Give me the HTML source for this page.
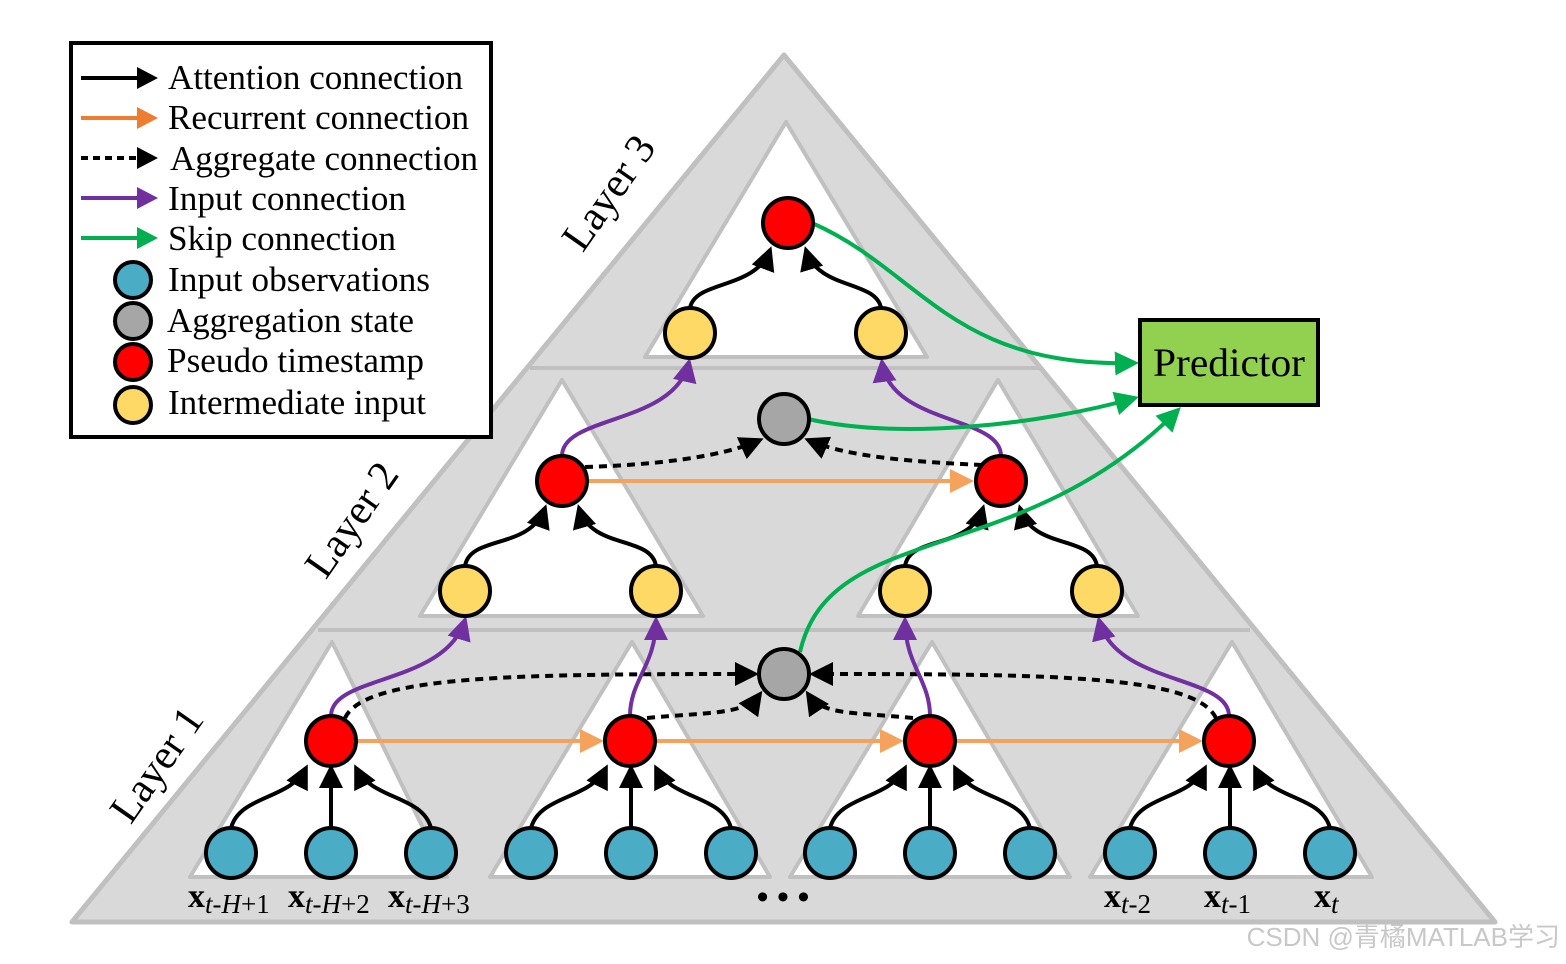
<!DOCTYPE html>
<html><head><meta charset="utf-8"><style>body{margin:0;background:#fff}svg{display:block}</style></head><body>
<svg width="1566" height="964" viewBox="0 0 1566 964" xmlns="http://www.w3.org/2000/svg" font-family="Liberation Serif, serif">
<defs>
<marker id="mk" markerWidth="6" markerHeight="6" refX="5" refY="3" orient="auto" markerUnits="strokeWidth"><path d="M0,0L6,3L0,6z" fill="#000"/></marker>
<marker id="mo" markerWidth="6" markerHeight="6" refX="5" refY="3" orient="auto" markerUnits="strokeWidth"><path d="M0,0L6,3L0,6z" fill="#f5a25d"/></marker>
<marker id="mp" markerWidth="6" markerHeight="6" refX="5" refY="3" orient="auto" markerUnits="strokeWidth"><path d="M0,0L6,3L0,6z" fill="#7030a0"/></marker>
<marker id="mg" markerWidth="6" markerHeight="6" refX="5" refY="3" orient="auto" markerUnits="strokeWidth"><path d="M0,0L6,3L0,6z" fill="#00b050"/></marker>
</defs>
<polygon points="784,55 1495,922 72,922" fill="#d9d9d9" stroke="#c0c0c0" stroke-width="5" stroke-linejoin="round"/>
<line x1="530" y1="368" x2="1040" y2="368" stroke="#c0c0c0" stroke-width="4"/>
<line x1="318" y1="630" x2="1250" y2="630" stroke="#c0c0c0" stroke-width="4"/>
<g fill="#fff" stroke="#c0c0c0" stroke-width="4" stroke-linejoin="round">
<polygon points="786,122 927,357 645,357"/>
<polygon points="562,380 703,616 420,616"/>
<polygon points="998,380 1138,616 858,616"/>
<polygon points="332,642 447,877 190,877"/>
<polygon points="632,642 770,877 490,877"/>
<polygon points="932,642 1070,877 790,877"/>
<polygon points="1232,642 1372,877 1090,877"/>
</g>
<g font-size="42" fill="#000">
<text transform="translate(612,195) rotate(-55)" text-anchor="middle" dominant-baseline="middle">Layer 3</text>
<text transform="translate(355,522) rotate(-55)" text-anchor="middle" dominant-baseline="middle">Layer 2</text>
<text transform="translate(160,767) rotate(-55)" text-anchor="middle" dominant-baseline="middle">Layer 1</text>
</g>
<g fill="none" stroke="#000" stroke-width="4" marker-end="url(#mk)">
<path d="M231,828 C240,795 290,800 306,768"/><path d="M331,828 L331,768"/><path d="M431,828 C422,795 372,800 356,768"/>
<path d="M531,828 C540,795 590,800 606,768"/><path d="M631,828 L631,768"/><path d="M731,828 C722,795 672,800 656,768"/>
<path d="M830,828 C839,795 889,800 905,768"/><path d="M930,828 L930,768"/><path d="M1030,828 C1021,795 971,800 955,768"/>
<path d="M1130,828 C1139,795 1189,800 1205,768"/><path d="M1230,828 L1230,768"/><path d="M1330,828 C1321,795 1271,800 1255,768"/>
<path d="M465,566 C470,535 530,550 545,508"/><path d="M656,566 C651,535 591,550 579,508"/>
<path d="M905,566 C910,535 970,550 983,508"/><path d="M1097,566 C1092,535 1032,550 1020,508"/>
<path d="M690,308 C695,280 755,290 770,250"/><path d="M881,308 C876,280 818,290 806,250"/>
</g>
<g fill="none" stroke="#000" stroke-width="4" stroke-dasharray="8,6" marker-end="url(#mk)">
<path d="M345,718 C365,675 520,674 755,674"/>
<path d="M647,718 C710,712 745,715 760,694"/>
<path d="M1216,718 C1195,675 1050,674 813,674"/>
<path d="M913,718 C850,712 822,715 808,694"/>
<path d="M585,467 C650,465 720,458 760,440"/>
<path d="M982,465 C920,462 850,458 808,440"/>
</g>
<g stroke="#f5a25d" stroke-width="4" marker-end="url(#mo)">
<line x1="356" y1="741" x2="600" y2="741"/><line x1="655" y1="741" x2="900" y2="741"/><line x1="955" y1="741" x2="1199" y2="741"/>
<line x1="587" y1="481" x2="970" y2="481"/>
</g>
<g fill="none" stroke="#7030a0" stroke-width="4" marker-end="url(#mp)">
<path d="M331,716 C331,675 445,685 465,620"/>
<path d="M630,716 C630,680 656,665 656,620"/>
<path d="M930,716 C930,680 905,665 905,620"/>
<path d="M1229,716 C1229,675 1115,685 1099,620"/>
<path d="M562,456 C562,415 675,425 689,362"/>
<path d="M1001,456 C1001,415 890,425 882,362"/>
</g>
<g fill="none" stroke="#00b050" stroke-width="4" marker-end="url(#mg)">
<path d="M812,223 C920,270 950,368 1135,363"/>
<path d="M808,419 C900,440 1040,425 1135,398"/>
<path d="M800,652 C830,520 1020,570 1178,410"/>
</g>
<g stroke="#000" stroke-width="4">
<g fill="#4bacc6">
<circle cx="231" cy="853" r="25"/><circle cx="331" cy="853" r="25"/><circle cx="431" cy="853" r="25"/>
<circle cx="531" cy="853" r="25"/><circle cx="631" cy="853" r="25"/><circle cx="731" cy="853" r="25"/>
<circle cx="830" cy="853" r="25"/><circle cx="930" cy="853" r="25"/><circle cx="1030" cy="853" r="25"/>
<circle cx="1130" cy="853" r="25"/><circle cx="1230" cy="853" r="25"/><circle cx="1330" cy="853" r="25"/>
</g>
<g fill="#ff0000">
<circle cx="331" cy="741" r="25"/><circle cx="630" cy="741" r="25"/><circle cx="930" cy="741" r="25"/><circle cx="1229" cy="741" r="25"/>
<circle cx="562" cy="481" r="25"/><circle cx="1001" cy="481" r="25"/><circle cx="788" cy="223" r="25"/>
</g>
<g fill="#a6a6a6"><circle cx="784" cy="674" r="25"/><circle cx="784" cy="419" r="25"/></g>
<g fill="#ffd966">
<circle cx="465" cy="591" r="25"/><circle cx="656" cy="591" r="25"/><circle cx="905" cy="591" r="25"/><circle cx="1097" cy="591" r="25"/>
<circle cx="690" cy="333" r="25"/><circle cx="881" cy="333" r="25"/>
</g>
</g>
<rect x="1140" y="320" width="178" height="85" fill="#92d050" stroke="#000" stroke-width="4"/>
<text x="1229" y="376" font-size="40" text-anchor="middle" textLength="152" lengthAdjust="spacingAndGlyphs">Predictor</text>
<g font-size="34">
<text x="188" y="907"><tspan font-weight="bold">x</tspan><tspan font-style="italic" font-size="27" dy="6">t-H</tspan><tspan font-size="27">+1</tspan></text>
<text x="288" y="907"><tspan font-weight="bold">x</tspan><tspan font-style="italic" font-size="27" dy="6">t-H</tspan><tspan font-size="27">+2</tspan></text>
<text x="388" y="907"><tspan font-weight="bold">x</tspan><tspan font-style="italic" font-size="27" dy="6">t-H</tspan><tspan font-size="27">+3</tspan></text>
<text x="1104" y="907"><tspan font-weight="bold">x</tspan><tspan font-style="italic" font-size="27" dy="6">t</tspan><tspan font-size="27">-2</tspan></text>
<text x="1204" y="907"><tspan font-weight="bold">x</tspan><tspan font-style="italic" font-size="27" dy="6">t</tspan><tspan font-size="27">-1</tspan></text>
<text x="1314" y="907"><tspan font-weight="bold">x</tspan><tspan font-style="italic" font-size="27" dy="6">t</tspan></text>
<text x="783" y="908" font-weight="bold" text-anchor="middle">• • •</text>
</g>
<rect x="71" y="43" width="420" height="394" fill="#fff" stroke="#000" stroke-width="4"/>
<g stroke-width="4">
<line x1="81" y1="78" x2="140" y2="78" stroke="#000"/><path d="M137,67L158,78L137,89z" fill="#000"/>
<line x1="81" y1="118" x2="140" y2="118" stroke="#ed7d31"/><path d="M137,107L158,118L137,129z" fill="#ed7d31"/>
<line x1="81" y1="158" x2="140" y2="158" stroke="#000" stroke-dasharray="7,5"/><path d="M137,147L158,158L137,169z" fill="#000"/>
<line x1="81" y1="198" x2="140" y2="198" stroke="#7030a0"/><path d="M137,187L158,198L137,209z" fill="#7030a0"/>
<line x1="81" y1="238" x2="140" y2="238" stroke="#00b050"/><path d="M137,227L158,238L137,249z" fill="#00b050"/>
<g stroke="#000"><circle cx="133" cy="280" r="18" fill="#4bacc6"/><circle cx="133" cy="321" r="18" fill="#a6a6a6"/><circle cx="133" cy="362" r="18" fill="#ff0000"/><circle cx="133" cy="405" r="18" fill="#ffd966"/></g>
</g>
<g font-size="35" lengthAdjust="spacingAndGlyphs">
<text x="168" y="89" textLength="295" lengthAdjust="spacingAndGlyphs">Attention connection</text>
<text x="168" y="129" textLength="301" lengthAdjust="spacingAndGlyphs">Recurrent connection</text>
<text x="170" y="170" textLength="308" lengthAdjust="spacingAndGlyphs">Aggregate connection</text>
<text x="168" y="210" textLength="238" lengthAdjust="spacingAndGlyphs">Input connection</text>
<text x="168" y="250" textLength="228" lengthAdjust="spacingAndGlyphs">Skip connection</text>
<text x="168" y="291" textLength="262" lengthAdjust="spacingAndGlyphs">Input observations</text>
<text x="167" y="332" textLength="247" lengthAdjust="spacingAndGlyphs">Aggregation state</text>
<text x="167" y="372" textLength="257" lengthAdjust="spacingAndGlyphs">Pseudo timestamp</text>
<text x="168" y="414" textLength="258" lengthAdjust="spacingAndGlyphs">Intermediate input</text>
</g>
<text x="1560" y="946" font-family="Liberation Sans, Noto Sans CJK SC, sans-serif" font-size="26" fill="#c8c8c8" text-anchor="end">CSDN @青橘MATLAB学习</text>
</svg>
</body></html>
